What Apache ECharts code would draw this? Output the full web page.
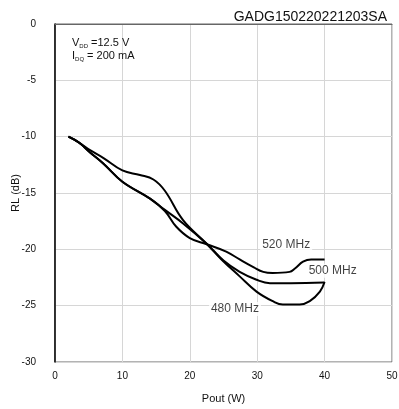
<!DOCTYPE html>
<html><head><meta charset="utf-8">
<script src="https://cdn.jsdelivr.net/npm/echarts@6/dist/echarts.min.js"></script>
<style>html,body{margin:0;padding:0;background:#fff}#c{width:399px;height:409px}</style>
</head><body><div id="c"></div>
<script>
const xTicks = [0, 10, 20, 30, 40, 50];
const yTicks = [0, -5, -10, -15, -20, -25, -30];
const seriesNames = ['480 MHz', '500 MHz', '520 MHz'];
const rl480 = [[2,-10],[3.5,-10.5],[5.2,-11.2],[7.2,-11.9],[10,-13.0],[12.6,-13.4],[14.6,-13.8],[16.3,-14.8],[19,-17.4],[22.5,-19.5],[24.7,-20.9],[27.4,-22.4],[29.9,-23.75],[32.3,-24.6],[33.8,-24.9],[36.3,-24.9],[37.8,-24.6],[39.3,-23.75],[40,-22.9]];
const rl500 = [[2,-10],[3.5,-10.5],[5.2,-11.4],[7.2,-12.4],[10,-14.0],[14.1,-15.5],[16.3,-16.5],[19,-17.7],[22.5,-19.5],[25,-21.0],[27.4,-22.0],[29.9,-22.7],[31.9,-23.0],[35,-23.0],[40,-22.95]];
const rl520 = [[2,-10],[3.5,-10.5],[5.2,-11.4],[7.2,-12.4],[10,-14.0],[14.1,-15.5],[16.3,-16.6],[18,-18.0],[20,-19.0],[22.5,-19.55],[25.4,-20.2],[27.4,-20.9],[29.5,-21.6],[30.9,-22.0],[32.3,-22.1],[34.8,-22.0],[35.6,-21.7],[36.8,-21.1],[38,-20.9],[40,-20.9]];
const labelPos = [[26.7,-25.3],[41.2,-21.9],[34.3,-19.6]];
const titleText = 'GADG150220221203SA';

const font = '"Liberation Sans", Arial, sans-serif';
const chart = echarts.init(document.getElementById('c'), null, {renderer:'canvas'});
const lineData = [rl480, rl500, rl520];
const series = lineData.map((d, i) => ({
  name: seriesNames[i], type: 'line', data: d, smooth: 0.4, symbol: 'none',
  lineStyle: {color: '#000', width: 2}, z: 3
}));
series.push({
  type: 'scatter', symbolSize: 0, z: 5,
  data: labelPos.map((p, i) => ({value: p, name: seriesNames[i]})),
  label: {show: true, position: 'inside', formatter: '{b}', color: '#111', fontSize: 12, fontFamily: font,
    backgroundColor: '#fff', padding: [1, 2]}
});
chart.setOption({
  animation: false,
  backgroundColor: '#fff',
  title: {text: titleText, right: 7, top: 5, textStyle: {fontSize: 14, fontWeight: 'normal', color: '#111', fontFamily: font}},
  grid: {left: 55, right: 7, top: 24, bottom: 47, show: true, borderColor: '#666', borderWidth: 1, outerBoundsMode: 'none', containLabel: false},
  xAxis: {type: 'value', min: xTicks[0], max: xTicks[xTicks.length-1], interval: 10,
    name: 'Pout (W)', nameLocation: 'middle', nameGap: 31, nameMoveOverlap: false,
    nameTextStyle: {fontSize: 11, color: '#111', fontFamily: font},
    axisLine: {lineStyle: {color: '#666'}}, axisTick: {show: false},
    axisLabel: {fontSize: 10, color: '#111', margin: 9, fontFamily: font},
    splitLine: {lineStyle: {color: '#d6d6d6'}}},
  yAxis: {type: 'value', min: yTicks[yTicks.length-1], max: yTicks[0], interval: 5,
    name: 'RL (dB)', nameLocation: 'middle', nameGap: 34, nameRotate: 90, nameMoveOverlap: false,
    nameTextStyle: {fontSize: 11, color: '#111', fontFamily: font},
    axisLine: {show: true, lineStyle: {color: '#000', width: 1.5}}, axisTick: {show: false},
    axisLabel: {fontSize: 10, color: '#111', margin: 19, fontFamily: font},
    splitLine: {lineStyle: {color: '#d6d6d6'}}},
  graphic: [{type: 'text', left: 72, top: 37, z: 10, style: {
    text: '{a|V}{s|DD}{a| =12.5 V}\n{a|I}{s|DQ}{a| = 200 mA}',
    rich: {a: {fontSize: 11, fontFamily: font, fill: '#111', lineHeight: 13},
           s: {fontSize: 6, fontFamily: font, fill: '#111', lineHeight: 13, verticalAlign: 'bottom', padding: [4, 0, 0, 0]}}
  }}],
  series: series
});
</script></body></html>
